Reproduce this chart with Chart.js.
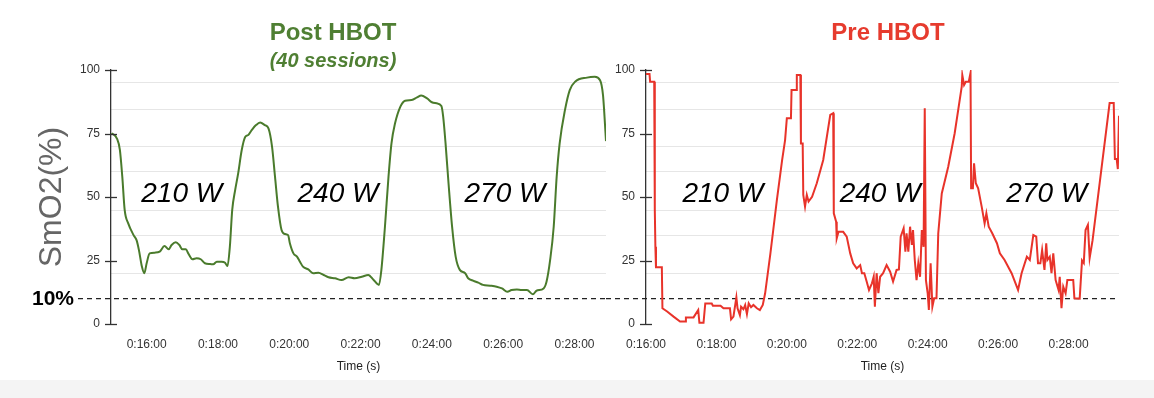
<!DOCTYPE html>
<html>
<head>
<meta charset="utf-8">
<script src="https://cdn.jsdelivr.net/npm/chart.js@4.4.1/dist/chart.umd.min.js"></script>
<style>
  html, body { margin: 0; padding: 0; background: #fff; }
  #wrap { position: relative; width: 1154px; height: 398px; overflow: hidden; }
  #band { position: absolute; left: 0; top: 380px; width: 1154px; height: 18px; background: #f4f4f4; }
  canvas { position: absolute; top: 0; }
  #postChart { left: 0; }
  #preChart { left: 606px; }
</style>
</head>
<body>
<div id="wrap">
  <div id="band"></div>
  <canvas id="postChart" width="610" height="398"></canvas>
  <canvas id="preChart" width="548" height="398"></canvas>
</div>
<script>
// time in seconds, SmO2 in %
const postTime = [901, 910, 915, 919, 923, 929, 938, 943, 947, 952, 956, 960, 965, 974, 982, 990, 997, 1002, 1009, 1015,
  1020, 1026, 1030, 1037, 1044, 1051, 1058, 1067, 1072, 1078, 1086, 1092, 1096, 1100, 1104, 1109, 1114, 1120, 1126, 1131,
  1137, 1144, 1151, 1159, 1165, 1171, 1176, 1181, 1187, 1193, 1198, 1201, 1207, 1213, 1218, 1223, 1232, 1240, 1249, 1258,
  1266, 1277, 1288, 1300, 1310, 1322, 1333, 1342, 1351, 1355, 1361, 1367, 1372, 1378, 1387, 1395, 1406, 1415, 1422, 1432,
  1440, 1448, 1456, 1459, 1463, 1468, 1474, 1480, 1487, 1496, 1501, 1510, 1518, 1526, 1538, 1549, 1558, 1567, 1574, 1583,
  1591, 1600, 1610, 1616, 1628, 1633, 1639, 1645, 1650, 1655, 1664, 1672, 1681, 1701, 1714, 1723, 1728, 1733];
const postSmO2 = [75.1, 73, 68.5, 58, 44.9, 39.6, 35, 33, 29.1, 22.6, 20, 23.9, 27.8, 28.1, 28.5, 30.7, 29.4, 31.1, 32.2, 31.1,
  29.4, 29.4, 27.8, 25.5, 25.9, 25.5, 23.9, 23.6, 23.5, 24.5, 24.5, 24.1, 22.8, 30.4, 44.9, 52.8, 59.3, 68.5, 73.7, 74.4,
  76.4, 78.3, 79.3, 78.3, 77, 69.8, 58, 46.2, 37, 35.4, 35, 31.8, 27.8, 26.5, 24.5, 22.6, 21.5, 20, 20.2, 19.3,
  18.4, 18, 17.3, 18.4, 18, 18.6, 19.3, 17.3, 15.4, 21.3, 38.3, 58, 71.1, 79, 85.6, 87.9, 88.2, 89.2, 90, 88.8,
  87.3, 86.9, 85.8, 81.6, 71.1, 55.4, 38.3, 26.5, 21.3, 20, 18, 17, 16.3, 15.4, 15.1, 14.7, 14, 12.7, 13.4, 13.6,
  13.4, 13.4, 11.7, 13.1, 14, 16.7, 25.2, 38.3, 58, 71.1, 84.3, 92.1, 95.4, 97, 97.3, 96, 90, 72];

const preTime = [960, 966, 967, 974, 975, 976, 977, 987, 988, 996, 1007, 1018, 1027, 1028, 1041, 1049, 1051, 1058, 1061, 1072,
  1074, 1087, 1092, 1103, 1105, 1109, 1114, 1116, 1120, 1122, 1126, 1129, 1132, 1135, 1139, 1143, 1149, 1154, 1159, 1163,
  1172, 1183, 1192, 1197, 1200, 1207, 1208, 1216, 1217, 1223, 1224, 1227, 1228, 1231, 1234, 1237, 1243, 1251, 1262, 1274,
  1279, 1280, 1284, 1285, 1288, 1296, 1302, 1308, 1313, 1319, 1325, 1328, 1332, 1336, 1340, 1345, 1348, 1350, 1353, 1356,
  1359, 1364, 1370, 1376, 1381, 1387, 1391, 1394, 1399, 1402, 1404, 1407, 1410, 1413, 1415, 1418, 1421, 1424, 1427, 1430,
  1433, 1435, 1437, 1440, 1442, 1445, 1448, 1451, 1455, 1458, 1464, 1475, 1486, 1498, 1499, 1502, 1505, 1510, 1513, 1514,
  1517, 1519, 1522, 1526, 1532, 1537, 1540, 1544, 1550, 1558, 1563, 1571, 1583, 1594, 1600, 1609, 1614, 1620, 1625, 1628,
  1632, 1635, 1639, 1642, 1644, 1648, 1651, 1654, 1658, 1663, 1665, 1668, 1671, 1675, 1678, 1688, 1690, 1699, 1703, 1706,
  1709, 1713, 1716, 1721, 1750, 1757, 1759, 1762, 1764, 1766];
const preSmO2 = [98.4, 98.4, 95.4, 95.4, 44.9, 30.4, 22.3, 22.3, 6.2, 4.9, 2.9, 1, 1, 2.6, 2.6, 5.5, 0.5, 0.5, 8.1, 8.1,
  7.2, 7.2, 6.2, 6.2, 1.8, 2.9, 10.5, 6.2, 3.5, 6.8, 5.8, 7.5, 3.9, 8.1, 6.6, 7.5, 6.2, 5.5, 7.5, 12.1,
  27.8, 48.8, 64.6, 72.4, 81, 81, 92.1, 92.1, 98, 98, 71.1, 71.1, 50.8, 46.2, 50.8, 48.2, 50.1, 55.4, 64.6, 82.3,
  83, 43.6, 40.3, 33.7, 36.3, 36.3, 34.4, 27.8, 23.9, 21.9, 23.2, 20, 20, 16.7, 13.4, 16, 18.6, 6.8, 20, 12.1,
  18.6, 20, 23.2, 20.6, 16.7, 21.3, 21.5, 34.4, 37.7, 28.5, 35.7, 28.5, 38.3, 31.1, 37, 25.2, 17.3, 23.9, 18.6, 37,
  30.4, 84.9, 17.3, 12.1, 5.5, 23.9, 6.8, 10.1, 10.1, 35.7, 51.4, 61.9, 75.1, 93.4, 98, 94.1, 95.4, 95.4, 98.9, 53.4,
  53.4, 63.3, 55.4, 53.4, 46.2, 39.6, 43.6, 38.3, 35.7, 31.8, 27.8, 25.2, 20, 13.4, 20, 26.5, 25.2, 35, 34.4, 23.9,
  23.9, 29.1, 21.3, 31.8, 25.2, 26.5, 20, 27.8, 17.3, 13.4, 18.6, 6.2, 14.7, 12.1, 17.3, 17.3, 10.1, 10, 25, 24,
  37, 39, 26, 33, 87, 87, 65, 65, 61, 82];

const yTicks = [0, 25, 50, 75, 100];
const gridLevels = [20, 35, 44.7, 60, 69.8, 84.6, 95];
const timeTicks = [960, 1080, 1200, 1320, 1440, 1560, 1680];
const threshold = 10;
const loads = ["210 W", "240 W", "270 W"];

Chart.defaults.font.family = "'Liberation Sans', Arial, sans-serif";

function fmtTime(v) {
  const m = Math.floor(v / 60), s = Math.round(v % 60);
  return "0:" + String(m).padStart(2, "0") + ":" + String(s).padStart(2, "0");
}

const decor = {
  id: "decor",
  beforeDatasetsDraw(chart, args, o) {
    const ctx = chart.ctx, y = chart.scales.y, a = chart.chartArea;
    const ty = y.getPixelForValue(threshold);
    ctx.save();
    ctx.setLineDash([5, 4]);
    ctx.strokeStyle = "#222";
    ctx.lineWidth = 1.2;
    ctx.beginPath();
    ctx.moveTo(o.dashFrom, ty);
    ctx.lineTo(a.right, ty);
    ctx.stroke();
    ctx.restore();
  },
  afterDraw(chart, args, o) {
    const ctx = chart.ctx, x = chart.scales.x, y = chart.scales.y, a = chart.chartArea;
    ctx.save();
    // tick marks crossing the axis
    ctx.strokeStyle = "#333";
    ctx.lineWidth = 1.3;
    yTicks.forEach(v => {
      const py = Math.round(y.getPixelForValue(v)) + 0.5;
      ctx.beginPath();
      ctx.moveTo(a.left - 6, py);
      ctx.lineTo(a.left + 6, py);
      ctx.stroke();
    });
    ctx.textAlign = "center";
    ctx.textBaseline = "middle";
    // workload labels
    ctx.fillStyle = "#000";
    ctx.font = "italic 28px 'Liberation Sans', Arial, sans-serif";
    loads.forEach((t, i) => {
      ctx.fillText(t, x.getPixelForValue(o.loadAt[i]), y.getPixelForValue(51));
    });
    // titles
    ctx.fillStyle = o.color;
    ctx.font = "bold 24px 'Liberation Sans', Arial, sans-serif";
    ctx.fillText(o.title, o.titleX, 33);
    if (o.subtitle) {
      ctx.font = "italic bold 20px 'Liberation Sans', Arial, sans-serif";
      ctx.fillText(o.subtitle, o.titleX, 61);
    }
    if (o.yLabel) {
      ctx.fillStyle = "#000";
      ctx.font = "bold 21px 'Liberation Sans', Arial, sans-serif";
      ctx.fillText("10%", 53, y.getPixelForValue(threshold) + 1);
      ctx.save();
      ctx.translate(52, 197);
      ctx.rotate(-Math.PI / 2);
      ctx.fillStyle = "#666";
      ctx.font = "32px 'Liberation Sans', Arial, sans-serif";
      ctx.fillText(o.yLabel, 0, 0);
      ctx.restore();
    }
    ctx.restore();
  }
};

function makeChart(id, time, values, color, xmin, xmax, yWidth, padRight, smooth, deco) {
  return new Chart(document.getElementById(id), {
    type: "line",
    data: {
      datasets: [{
        data: time.map((t, i) => ({ x: t, y: values[i] })),
        borderColor: color,
        borderWidth: 2,
        pointRadius: 0,
        fill: false,
        cubicInterpolationMode: smooth ? "monotone" : "default",
        tension: 0
      }]
    },
    options: {
      responsive: false,
      animation: false,
      layout: { padding: { top: 70, right: padRight, left: 0, bottom: 0 } },
      plugins: { legend: { display: false }, tooltip: { enabled: false }, decor: deco },
      scales: {
        x: {
          type: "linear",
          min: xmin,
          max: xmax,
          afterBuildTicks: s => { s.ticks = timeTicks.map(v => ({ value: v })); },
          afterFit: s => { s.height = 74; },
          grid: { display: false },
          border: { display: false },
          ticks: { autoSkip: false, maxRotation: 0, padding: 5, color: "#333", font: { size: 12 }, callback: fmtTime },
          title: { display: true, text: "Time (s)", color: "#222", font: { size: 12 }, padding: { top: 0, bottom: 24 } }
        },
        y: {
          position: "left",
          min: 0,
          max: 100,
          afterBuildTicks: s => { s.ticks = yTicks.map(v => ({ value: v })); },
          afterFit: s => { s.width = yWidth; },
          grid: { drawOnChartArea: false, drawTicks: false },
          border: { display: true, color: "#333", width: 1.3 },
          ticks: { padding: 11, color: "#333", font: { size: 12 } }
        },
        y2: {
          position: "left",
          min: 0,
          max: 100,
          afterBuildTicks: s => { s.ticks = gridLevels.map(v => ({ value: v })); },
          afterFit: s => { s.width = 0; },
          ticks: { display: false },
          border: { display: false },
          grid: { color: "#e6e6e6", lineWidth: 1, drawTicks: false }
        }
      }
    },
    plugins: [decor]
  });
}

makeChart("postChart", postTime, postSmO2, "#4a7b2c", 900, 1733, 111, 4, true, {
  title: "Post HBOT", subtitle: "(40 sessions)", color: "#4f7f33", titleX: 333,
  yLabel: "SmO2(%)", dashFrom: 78, loadAt: [1019, 1282, 1563]
});
makeChart("preChart", preTime, preSmO2, "#e8332a", 960, 1766, 40, 35, false, {
  title: "Pre HBOT", subtitle: "", color: "#e63b2e", titleX: 282,
  yLabel: "", dashFrom: 0, loadAt: [1091, 1359, 1643]
});
</script>
</body>
</html>
